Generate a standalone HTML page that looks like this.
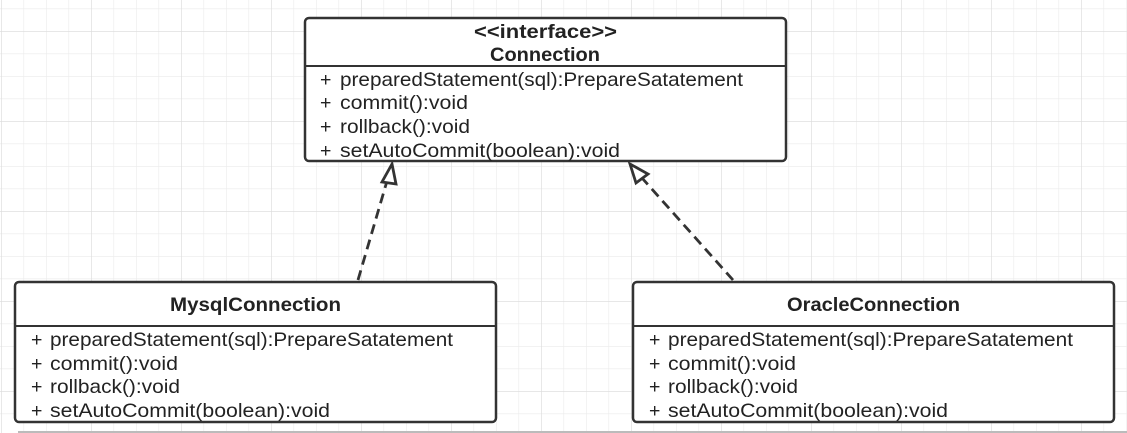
<!DOCTYPE html>
<html><head><meta charset="utf-8"><style>
html,body{margin:0;padding:0;background:#fff;}
svg{display:block;}
text{font-family:"Liberation Sans",sans-serif;fill:#222;font-size:19.5px;}
.b{font-weight:bold;}
</style></head><body>
<svg width="1127" height="433" viewBox="0 0 1127 433" xmlns="http://www.w3.org/2000/svg">
<defs>
<pattern id="minor" x="1" y="8.5" width="22.5" height="22.5" patternUnits="userSpaceOnUse">
<path d="M0 0V22.5M0 0H22.5" stroke="#ebebeb" stroke-width="1.2" fill="none"/>
</pattern>
<pattern id="major" x="1" y="31" width="90" height="90" patternUnits="userSpaceOnUse">
<path d="M0 0V90M0 0H90" stroke="#dcdcdc" stroke-width="1.2" fill="none"/>
</pattern>
</defs>
<rect width="1127" height="433" fill="#fff"/>
<rect width="1127" height="433" fill="url(#minor)"/>
<rect width="1127" height="433" fill="url(#major)"/>
<line x1="18" y1="432" x2="1127" y2="432" stroke="#bbb" stroke-width="2"/>

<line x1="358" y1="280" x2="387" y2="181" stroke="#333" stroke-width="2.8" stroke-dasharray="10,6"/>
<polygon points="392,164 382,182 396,184" fill="#fff" stroke="#333" stroke-width="2.8"/>
<line x1="733" y1="280" x2="642" y2="178" stroke="#333" stroke-width="2.8" stroke-dasharray="10,6"/>
<polygon points="630,164 636,183 648,174" fill="#fff" stroke="#333" stroke-width="2.8"/>

<rect x="305" y="18" width="481" height="143" rx="4" fill="#fff" stroke="#333" stroke-width="2.5"/>
<line x1="305" y1="66" x2="786" y2="66" stroke="#333" stroke-width="2"/>
<text class="b" x="474" y="38" textLength="143" lengthAdjust="spacingAndGlyphs">&lt;&lt;interface&gt;&gt;</text>
<text class="b" x="490" y="61" textLength="110" lengthAdjust="spacingAndGlyphs">Connection</text>
<text x="320" y="86">+</text><text x="340" y="86" textLength="403" lengthAdjust="spacingAndGlyphs">preparedStatement(sql):PrepareSatatement</text>
<text x="320" y="109">+</text><text x="340" y="109" textLength="128" lengthAdjust="spacingAndGlyphs">commit():void</text>
<text x="320" y="133">+</text><text x="340" y="133" textLength="130" lengthAdjust="spacingAndGlyphs">rollback():void</text>
<text x="320" y="157">+</text><text x="340" y="157" textLength="280" lengthAdjust="spacingAndGlyphs">setAutoCommit(boolean):void</text>

<rect x="15" y="282" width="481" height="140" rx="4" fill="#fff" stroke="#333" stroke-width="2.5"/>
<line x1="15" y1="326" x2="496" y2="326" stroke="#333" stroke-width="2"/>
<text class="b" x="170" y="311" textLength="171" lengthAdjust="spacingAndGlyphs">MysqlConnection</text>
<text x="31" y="346">+</text><text x="50" y="346" textLength="403" lengthAdjust="spacingAndGlyphs">preparedStatement(sql):PrepareSatatement</text>
<text x="31" y="370">+</text><text x="50" y="370" textLength="128" lengthAdjust="spacingAndGlyphs">commit():void</text>
<text x="31" y="393">+</text><text x="50" y="393" textLength="130" lengthAdjust="spacingAndGlyphs">rollback():void</text>
<text x="31" y="417">+</text><text x="50" y="417" textLength="280" lengthAdjust="spacingAndGlyphs">setAutoCommit(boolean):void</text>

<rect x="633" y="282" width="481" height="140" rx="4" fill="#fff" stroke="#333" stroke-width="2.5"/>
<line x1="633" y1="326" x2="1114" y2="326" stroke="#333" stroke-width="2"/>
<text class="b" x="787" y="311" textLength="173" lengthAdjust="spacingAndGlyphs">OracleConnection</text>
<text x="649" y="346">+</text><text x="668" y="346" textLength="405" lengthAdjust="spacingAndGlyphs">preparedStatement(sql):PrepareSatatement</text>
<text x="649" y="370">+</text><text x="668" y="370" textLength="128" lengthAdjust="spacingAndGlyphs">commit():void</text>
<text x="649" y="393">+</text><text x="668" y="393" textLength="130" lengthAdjust="spacingAndGlyphs">rollback():void</text>
<text x="649" y="417">+</text><text x="668" y="417" textLength="280" lengthAdjust="spacingAndGlyphs">setAutoCommit(boolean):void</text>
</svg>
</body></html>
